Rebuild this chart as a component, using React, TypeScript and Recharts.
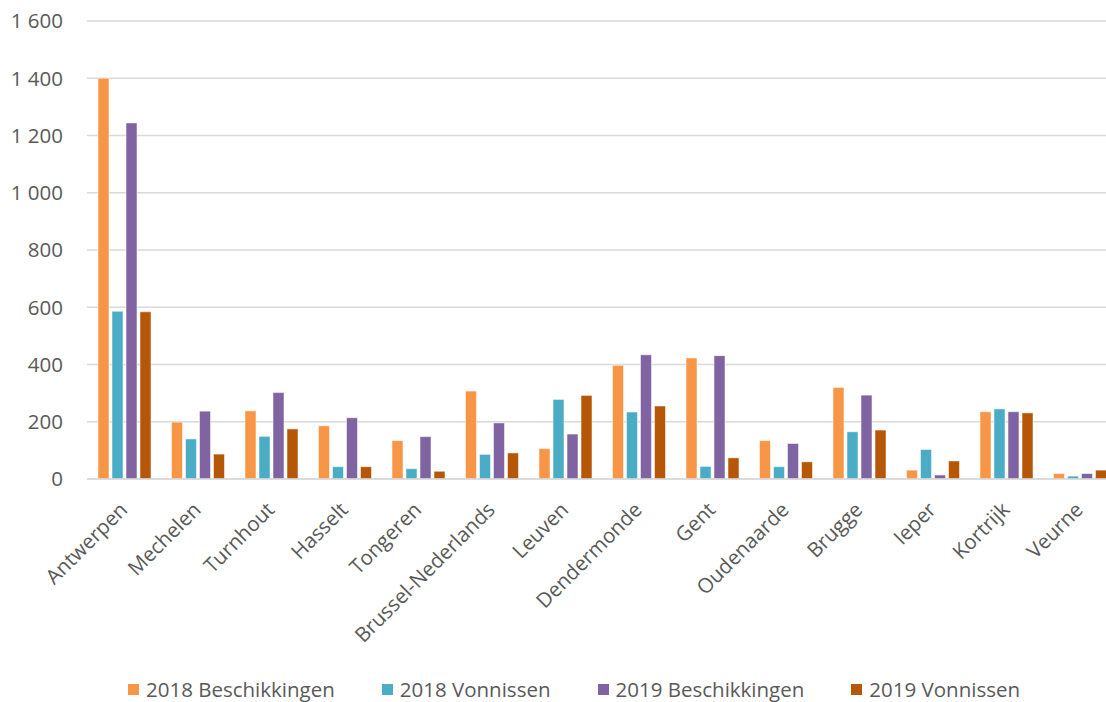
import { BarChart, Bar, XAxis, YAxis, CartesianGrid, Legend } from 'recharts';

const categories = [
  'Antwerpen', 'Mechelen', 'Turnhout', 'Hasselt', 'Tongeren', 'Brussel-Nederlands', 'Leuven',
  'Dendermonde', 'Gent', 'Oudenaarde', 'Brugge', 'Ieper', 'Kortrijk', 'Veurne',
];
const beschikkingen2018 = [1400, 199, 238, 186, 134, 307, 106, 397, 423, 134, 320, 31, 235, 19];
const vonnissen2018 = [586, 140, 149, 43, 36, 86, 278, 234, 44, 43, 165, 103, 245, 10];
const beschikkingen2019 = [1244, 237, 302, 214, 148, 196, 157, 434, 431, 124, 293, 14, 235, 19];
const vonnissen2019 = [584, 87, 175, 43, 27, 91, 292, 255, 74, 60, 171, 63, 231, 31];
const yTicks = [0, 200, 400, 600, 800, 1000, 1200, 1400, 1600];

const series = [
  { key: 'b2018', name: '2018 Beschikkingen', color: '#F79646' },
  { key: 'v2018', name: '2018 Vonnissen', color: '#4BACC6' },
  { key: 'b2019', name: '2019 Beschikkingen', color: '#8064A2' },
  { key: 'v2019', name: '2019 Vonnissen', color: '#B65708' },
];

const data = categories.map((name, i) => ({
  name,
  b2018: beschikkingen2018[i],
  v2018: vonnissen2018[i],
  b2019: beschikkingen2019[i],
  v2019: vonnissen2019[i],
}));

const FONT = '"Open Sans", sans-serif';
const TEXT = '#595959';
const FS = 20.5;

// thousands with a space, like "1 600"
const fmt = (v: number) => String(v).replace(/\B(?=(\d{3})+(?!\d))/g, ' ');

function XTick({ x, y, payload }: any) {
  const ax = x + 5;
  const ay = y + 32;
  return (
    <text
      x={ax}
      y={ay}
      textAnchor="end"
      transform={`rotate(-45, ${ax}, ${ay})`}
      fill={TEXT}
      fontSize={FS}
      fontFamily={FONT}
    >
      {payload.value}
    </text>
  );
}

function LegendContent() {
  return (
    <div style={{ display: 'flex', justifyContent: 'center', height: 22, lineHeight: 1, alignItems: 'center', fontFamily: FONT, fontSize: FS, color: TEXT }}>
      {series.map((s, i) => (
        <div key={s.key} style={{ display: 'flex', alignItems: 'center', marginLeft: i === 0 ? 0 : 47 }}>
          <span style={{ width: 11, height: 11, background: s.color, display: 'inline-block', marginRight: 7 }} />
          <span>{s.name}</span>
        </div>
      ))}
    </div>
  );
}

export default function App() {
  return (
    <div style={{ position: 'absolute', left: 0, top: 0, width: 1106, height: 702, overflow: 'hidden', background: '#fff' }}>
      <BarChart
        width={1120}
        height={702}
        data={data}
        margin={{ top: 21, right: 4, left: 0, bottom: 61 }}
        barCategoryGap={11}
        barGap={3}
      >
        <CartesianGrid vertical={false} stroke="#d9d9d9" strokeWidth={1.5} />
        <XAxis
          dataKey="name"
          interval={0}
          height={140}
          tickLine={false}
          tickSize={0}
          tickMargin={0}
          axisLine={{ stroke: '#d9d9d9', strokeWidth: 1.5 }}
          tick={<XTick />}
        />
        <YAxis
          width={87}
          domain={[0, 1600]}
          ticks={yTicks}
          axisLine={false}
          tickLine={false}
          tickMargin={18}
          tickFormatter={fmt}
          tick={{ fill: TEXT, fontSize: FS, fontFamily: FONT }}
        />
        <Legend
          verticalAlign="bottom"
          content={<LegendContent />}
          wrapperStyle={{ top: 678, left: 0, width: 1148, bottom: 'auto' }}
        />
        {series.map((s) => (
          <Bar
            key={s.key}
            dataKey={s.key}
            name={s.name}
            fill={s.color}
            stroke="#ffffff"
            strokeOpacity={0.5}
            strokeWidth={1}
            isAnimationActive={false}
          />
        ))}
      </BarChart>
    </div>
  );
}
